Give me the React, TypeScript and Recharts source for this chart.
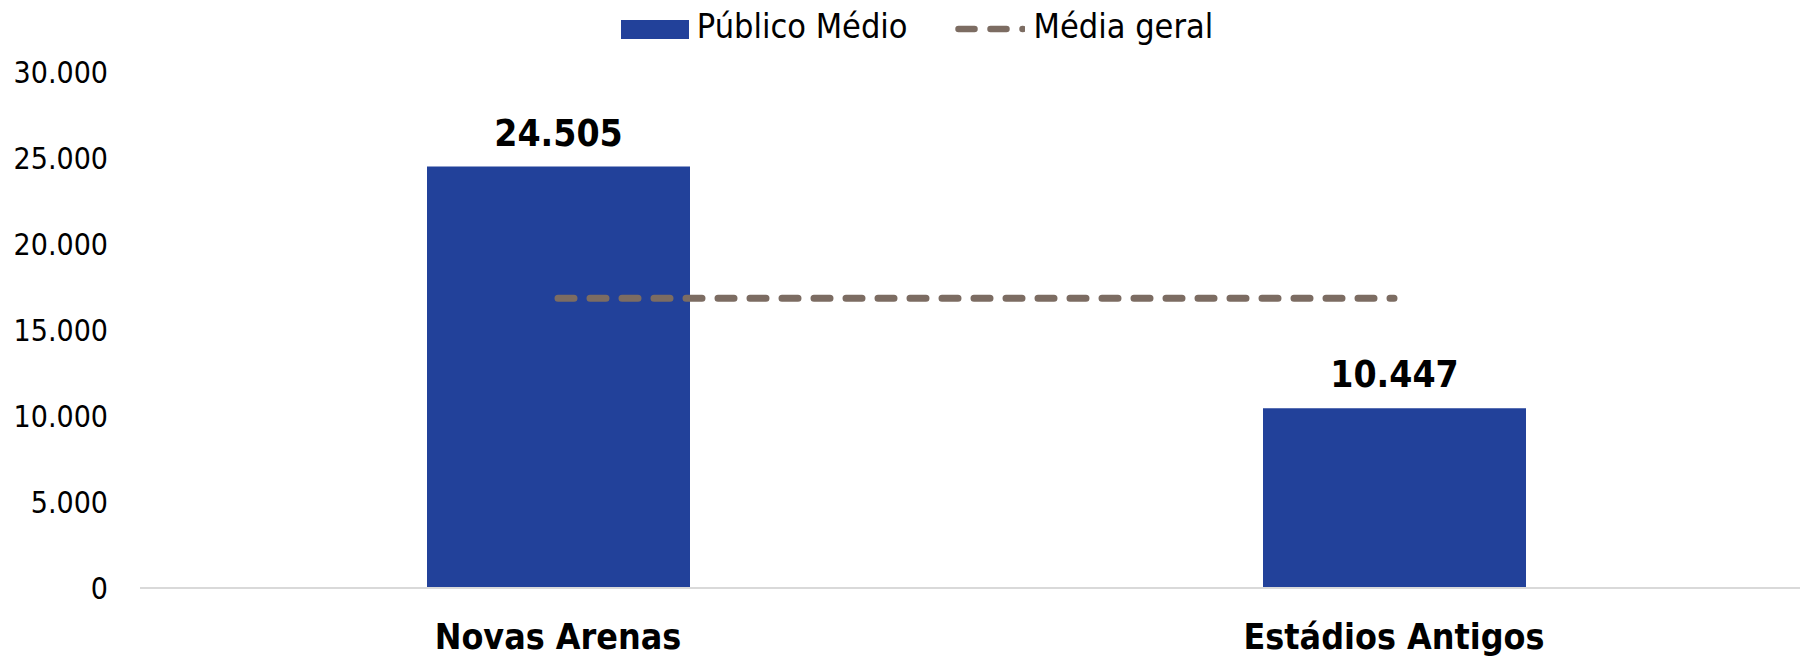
// Público médio — novas arenas vs estádios antigos
import { Bar, Line, XAxis, YAxis, Legend, LabelList, ComposedChart } from 'recharts'

const categorias = ['Novas Arenas', 'Estádios Antigos']
const publicoMedio = [24505, 10447]
const mediaGeral = [16840, 16840]
const yTicks = [0, 5000, 10000, 15000, 20000, 25000, 30000]

const data = categorias.map((nome, i) => ({
  nome,
  publico: publicoMedio[i],
  media: mediaGeral[i],
}))

const FONT = "'DejaVu Sans Condensed', 'DejaVu Sans', sans-serif"
const BLUE = '#22419A'
const BROWN = '#7C6C62'
const LEGEND_H = 40

const fmt = (v: number) => v.toLocaleString('pt-BR')

function CustomLegend() {
  return (
    <div style={{ height: LEGEND_H, display: 'flex', justifyContent: 'center', alignItems: 'center', paddingLeft: 22, fontFamily: FONT, fontSize: 34, color: '#000' }}>
      <span style={{ display: 'inline-block', width: 68, height: 19, background: BLUE, marginRight: 8, position: 'relative', top: 3 }} />
      <span>Público Médio</span>
      <svg width={70} height={12} style={{ marginLeft: 47, marginRight: 9, position: 'relative', top: 3 }}>
        <line x1={3.5} y1={6} x2={68} y2={6} stroke={BROWN} strokeWidth={6.5} strokeLinecap="round" strokeDasharray="16 16" />
      </svg>
      <span>Média geral</span>
    </div>
  )
}

export default function App() {
  return (
    <div style={{ position: 'absolute', top: 0, left: 0, width: 1800, height: 657, overflow: 'hidden', background: '#fff' }}>
      <ComposedChart width={1812} height={657} data={data} margin={{ top: 72 - LEGEND_H, right: 0, left: 0, bottom: 0 }}>
        <Legend verticalAlign="top" content={<CustomLegend />} wrapperStyle={{ top: 6, left: 0, width: 1812 }} />
        <XAxis
          dataKey="nome"
          height={69}
          axisLine={{ stroke: '#d9d9d9', strokeWidth: 2 }}
          tickLine={false}
          tickSize={0}
          tickMargin={36}
          tick={{ fontSize: 35.5, fontWeight: 'bold', fill: '#000', fontFamily: FONT }}
        />
        <YAxis
          width={140}
          domain={[0, 30000]}
          ticks={yTicks}
          tickFormatter={fmt}
          axisLine={false}
          tickLine={false}
          tickSize={0}
          tickMargin={32}
          tick={{ fontSize: 30, fill: '#000', fontFamily: FONT }}
        />
        <Bar dataKey="publico" fill={BLUE} barSize={263} isAnimationActive={false}>
          <LabelList
            dataKey="publico"
            position="top"
            offset={21}
            formatter={(v: any) => fmt(Number(v))}
            style={{ fontSize: 37, fontWeight: 'bold', fill: '#000', fontFamily: FONT }}
          />
        </Bar>
        <Line
          dataKey="media"
          stroke={BROWN}
          strokeWidth={7}
          strokeLinecap="round"
          strokeDasharray="16 16"
          dot={false}
          activeDot={false}
          isAnimationActive={false}
        />
      </ComposedChart>
    </div>
  )
}
